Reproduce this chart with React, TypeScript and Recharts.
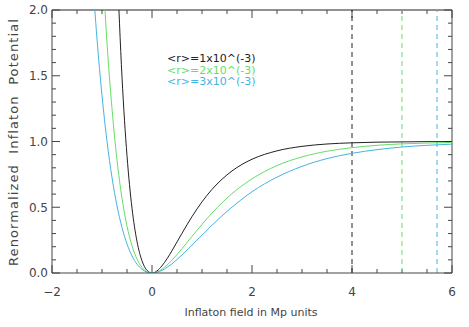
import { Line, LineChart, ReferenceLine, XAxis, YAxis } from "recharts";

// inflaton field (Mp units)
const phi = [
  -1.2, -1.1, -1.0, -0.9, -0.8, -0.7, -0.6, -0.5, -0.4, -0.3, -0.2, -0.1, 0, 0.1, 0.2, 0.3, 0.4,
  0.5, 0.6, 0.8, 1.0, 1.2, 1.4, 1.6, 1.8, 2.0, 2.5, 3.0, 3.5, 4.0, 4.5, 5.0, 5.5, 6.0,
];

// renormalized potential
const r1 = [
  null, null, null, null, null, 2.36, 1.49, 0.892, 0.493, 0.24, 0.093, 0.02, 0, 0.016, 0.055,
  0.108, 0.17, 0.236, 0.302, 0.429, 0.541, 0.636, 0.713, 0.776, 0.826, 0.865, 0.929, 0.963,
  0.981, 0.99, 0.995, 0.997, 0.999, 0.999,
];
const r2 = [
  null, null, 2.41, 1.75, 1.25, 0.859, 0.569, 0.357, 0.207, 0.106, 0.043, 0.01, 0, 0.008, 0.029,
  0.06, 0.098, 0.14, 0.185, 0.279, 0.37, 0.456, 0.534, 0.603, 0.664, 0.716, 0.817, 0.883, 0.926,
  0.953, 0.971, 0.982, 0.988, 0.993,
];
const r3 = [
  2.31, 1.78, 1.35, 1.0, 0.726, 0.51, 0.345, 0.221, 0.13, 0.067, 0.028, 0.006, 0, 0.006, 0.02,
  0.043, 0.07, 0.102, 0.137, 0.212, 0.288, 0.364, 0.435, 0.501, 0.562, 0.618, 0.729, 0.811, 0.87,
  0.91, 0.938, 0.958, 0.971, 0.98,
];

const seriesKeys = ["r1", "r2", "r3"];
const seriesNames = ["<r>=1x10^(-3)", "<r>=2x10^(-3)", "<r>=3x10^(-3)"];
const seriesColors = ["#222222", "#66dd66", "#44b4e0"];
// end-of-inflation markers
const cutoffs = [4, 5, 5.7];

const X_MIN = -2;
const X_MAX = 6;
const Y_MIN = 0;
const Y_MAX = 2;
const xMajor = [-2, 0, 2, 4, 6];
const xMinor = [-1.5, -1, -0.5, 0.5, 1, 1.5, 2.5, 3, 3.5, 4.5, 5, 5.5];
const yMajor = [0, 0.5, 1.0, 1.5, 2.0];
const yMinor = [
  0.1, 0.2, 0.3, 0.4, 0.6, 0.7, 0.8, 0.9, 1.1, 1.2, 1.3, 1.4, 1.6, 1.7, 1.8, 1.9,
];

const data = phi.map((x, i) => ({ x, r1: r1[i], r2: r2[i], r3: r3[i] }));

const FONT = "'DejaVu Sans', sans-serif";
const INK = "#444";
const W = 469;
const H = 327;
const M = { top: 10, right: 17, bottom: 54, left: 52 };
// tick lengths (px) turned into data units for the box ticks
const plotW = W - M.left - M.right;
const plotH = H - M.top - M.bottom;
const xTickLen = (px: number) => (px * (Y_MAX - Y_MIN)) / plotH;
const yTickLen = (px: number) => (px * (X_MAX - X_MIN)) / plotW;

const fmtX = (v: number) => (v < 0 ? "\u2212" + Math.abs(v) : String(v));
const fmtY = (v: number) => v.toFixed(1);

function boxTicks() {
  const out: any[] = [];
  const addX = (vals: number[], px: number, tag: string) => {
    const len = xTickLen(px);
    vals.forEach((v) => {
      out.push(
        <ReferenceLine key={`b${tag}${v}`} ifOverflow="visible" stroke={INK}
          segment={[{ x: v, y: Y_MIN }, { x: v, y: Y_MIN + len }]} />
      );
      out.push(
        <ReferenceLine key={`t${tag}${v}`} ifOverflow="visible" stroke={INK}
          segment={[{ x: v, y: Y_MAX }, { x: v, y: Y_MAX - len }]} />
      );
    });
  };
  const addY = (vals: number[], px: number, tag: string) => {
    const len = yTickLen(px);
    vals.forEach((v) => {
      out.push(
        <ReferenceLine key={`l${tag}${v}`} ifOverflow="visible" stroke={INK}
          segment={[{ x: X_MIN, y: v }, { x: X_MIN + len, y: v }]} />
      );
      out.push(
        <ReferenceLine key={`r${tag}${v}`} ifOverflow="visible" stroke={INK}
          segment={[{ x: X_MAX, y: v }, { x: X_MAX - len, y: v }]} />
      );
    });
  };
  addX(xMajor, 8, "M");
  addX(xMinor, 4, "m");
  addY(yMajor, 8, "M");
  addY(yMinor, 4, "m");
  return out;
}

const tickStyle = { fontSize: 12, fill: INK, fontFamily: FONT };
const overlay: any = {
  position: "absolute",
  fontFamily: FONT,
  color: INK,
  whiteSpace: "nowrap",
};

export default function App() {
  return (
    <div style={{ position: "absolute", left: 0, top: 0, width: W, height: H, background: "#fff" }}>
      <LineChart width={W} height={H} data={data} margin={{ top: M.top, right: M.right, bottom: 0, left: 0 }}>
        <XAxis
          dataKey="x"
          type="number"
          domain={[X_MIN, X_MAX]}
          ticks={xMajor}
          height={M.bottom}
          tickSize={0}
          tickMargin={14}
          tickLine={false}
          axisLine={{ stroke: INK }}
          tick={tickStyle}
          tickFormatter={fmtX}
        />
        <YAxis
          type="number"
          domain={[Y_MIN, Y_MAX]}
          ticks={yMajor}
          allowDataOverflow
          width={M.left}
          tickSize={0}
          tickMargin={4}
          tickLine={false}
          axisLine={{ stroke: INK }}
          tick={tickStyle}
          tickFormatter={fmtY}
        />
        <ReferenceLine y={Y_MAX} ifOverflow="visible" stroke="#222" />
        <ReferenceLine x={X_MAX} ifOverflow="visible" stroke={INK} />
        {boxTicks()}
        {cutoffs.map((c, i) => (
          <ReferenceLine key={c} x={c} stroke={seriesColors[i]} strokeDasharray="5 4" />
        ))}
        {seriesKeys.map((k, i) => (
          <Line
            key={k}
            dataKey={k}
            name={seriesNames[i]}
            type="monotone"
            stroke={seriesColors[i]}
            strokeWidth={1}
            dot={false}
            isAnimationActive={false}
          />
        ))}
      </LineChart>
      <div style={{ ...overlay, left: 167, top: 53, fontSize: 11, lineHeight: "11.5px" }}>
        {seriesNames.map((n, i) => (
          <div key={n} style={{ color: seriesColors[i] }}>
            {n}
          </div>
        ))}
      </div>
      <div style={{ ...overlay, left: 251, top: 312, fontSize: 11, transform: "translate(-50%, -50%)" }}>
        Inflaton field in Mp units
      </div>
      <div
        style={{
          ...overlay,
          left: 13,
          top: 142,
          fontSize: 13,
          letterSpacing: 1.1,
          transform: "translate(-50%, -50%) rotate(-90deg)",
        }}
      >
        Renormalized&nbsp; Inflaton&nbsp; Potential
      </div>
    </div>
  );
}
